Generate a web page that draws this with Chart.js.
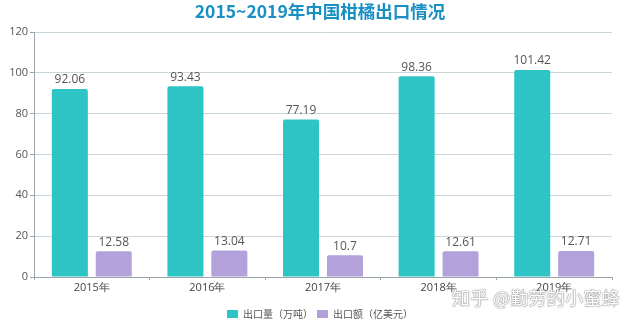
<!DOCTYPE html>
<html>
<head>
<meta charset="utf-8">
<script src="https://cdn.jsdelivr.net/npm/chart.js@4/dist/chart.umd.min.js"></script>
<style>
  html,body{margin:0;padding:0;background:#fff;}
  #wrap{position:relative;width:640px;height:323px;}
  #mark{position:absolute;left:452px;top:284px;font-family:"Noto Sans CJK SC",sans-serif;font-size:18px;color:#fff;
        text-shadow:0 0 1px #888,0 0 1px #888,0 0 2px #aaa;letter-spacing:0.3px;}
</style>
</head>
<body>
<div id="wrap">
<canvas id="myChart" width="640" height="323"></canvas>
<div id="mark">知乎 @勤劳的小蜜蜂</div>
</div>
<script>
const years=["2015年","2016年","2017年","2018年","2019年"];
const volume=[92.06,93.43,77.19,98.36,101.42];
const value=[12.58,13.04,10.7,12.61,12.71];
const yTicks=[0,20,40,60,80,100,120];

// draws the number above each bar
const barLabels={
  id:"barLabels",
  afterDatasetsDraw(chart){
    const ctx=chart.ctx;
    ctx.save();
    ctx.font='12px "Open Sans", sans-serif';
    ctx.fillStyle="#555";
    ctx.textAlign="center";
    ctx.textBaseline="bottom";
    chart.data.datasets.forEach((ds,i)=>{
      chart.getDatasetMeta(i).data.forEach((bar,j)=>{
        ctx.fillText(String(ds.data[j]),bar.x,bar.y-3);
      });
    });
    ctx.restore();
  }
};

const ctx=document.getElementById("myChart").getContext("2d");
const myChart=new Chart(ctx,{
  type:"bar",
  data:{
    labels:years,
    datasets:[
      {label:"出口量（万吨）",data:volume,backgroundColor:"#2ec4c6",borderRadius:{topLeft:2,topRight:2},borderSkipped:"bottom"},
      {label:"出口额（亿美元）",data:value,backgroundColor:"#b3a1dc",borderRadius:{topLeft:2,topRight:2},borderSkipped:"bottom"}
    ]
  },
  options:{
    responsive:false,
    animation:false,
    layout:{padding:{left:0,right:0,top:0,bottom:-6}},
    datasets:{bar:{categoryPercentage:0.76,barPercentage:0.82}},
    plugins:{
      title:{display:true,text:"2015~2019年中国柑橘出口情况",color:"#1a8fc4",
        font:{family:'"Noto Sans CJK SC", sans-serif',size:17.5,weight:"bold"},padding:{top:1,bottom:10}},
      legend:{position:"bottom",labels:{boxWidth:11,boxHeight:8,color:"#555",padding:4,
        font:{family:'"Noto Sans CJK SC", sans-serif',size:10}}},
      tooltip:{enabled:false}
    },
    scales:{
      x:{
        grid:{display:true,drawOnChartArea:false,drawTicks:true,tickLength:3,color:"#9aa6aa"},
        border:{color:"#9aa6aa"},
        ticks:{color:"#444",padding:1,font:{family:'"Open Sans", sans-serif',size:11}},
        afterFit(axis){axis.height=28;}
      },
      y:{
        min:0,max:120,
        afterBuildTicks(axis){axis.ticks=yTicks.map(v=>({value:v}));},
        afterFit(axis){axis.width=34;},
        grid:{color:"#c9d7da",drawTicks:true,tickLength:4,tickColor:"#9aa6aa"},
        border:{color:"#9aa6aa"},
        ticks:{color:"#555",padding:2,font:{family:'"Open Sans", sans-serif',size:11}}
      },
      // empty right-hand axis that only reserves the margin beside the plot
      gap:{
        position:"right",
        grid:{display:false},
        border:{display:false},
        ticks:{display:false},
        afterFit(axis){axis.width=28;}
      }
    }
  },
  plugins:[barLabels]
});
</script>
</body>
</html>
